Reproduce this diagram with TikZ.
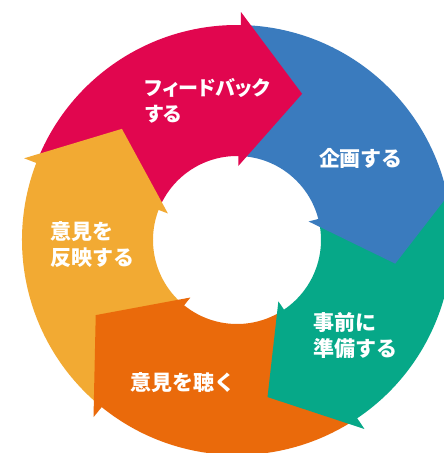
\documentclass[tikz,border=0pt]{standalone}
\usepackage{fontspec}
\setmainfont{Noto Sans CJK JP}
\newfontfamily\paltfont{Noto Sans CJK JP}[RawFeature=+palt]
\definecolor{cMag}{HTML}{E1064F}
\definecolor{cBlue}{HTML}{3A7BBE}
\definecolor{cGreen}{HTML}{06A888}
\definecolor{cOrange}{HTML}{EA6A0B}
\definecolor{cYellow}{HTML}{F2AA33}
\newcommand\ringbody[3]{\fill[#1] ({#2-2}:215pt) arc[start angle={#2-2},end angle={#3-2},radius=215pt] -- ({#3-2}:84pt) arc[start angle={#3-2},end angle={#2-2},radius=84pt] -- cycle;}
\newcommand\ringhead[2]{\fill[#1] (#2:74pt) -- (#2:228pt) -- ({#2-23}:160pt) -- cycle;}
\begin{document}
\begin{tikzpicture}[x=1pt,y=1pt,
  lbl/.style={text=white, font=\fontsize{21}{26}\selectfont\bfseries, inner sep=0pt, align=left, anchor=west}]
\useasboundingbox (-237,-213) rectangle (207,240);
\fill[white] (-237,-213) rectangle (207,240);
\clip (-237,-213) rectangle (207,240);
% bodies
\ringbody{cMag}{159}{89}
\ringbody{cBlue}{89}{14.5}
\ringbody{cGreen}{14.5}{-56}
\ringbody{cOrange}{-56}{-129}
\ringbody{cYellow}{-129}{-201}
% heads
\ringhead{cMag}{89}
\ringhead{cBlue}{14.5}
\ringhead{cGreen}{-56}
\ringhead{cOrange}{-129}
\ringhead{cYellow}{159}
% labels
\node[lbl, font=\fontsize{20}{26}\selectfont\bfseries\paltfont] (fb) at (-92,139.5) {フィードバック\\する};
\node[lbl, anchor=center] (kk) at (361-237,82) {企画する};
\node[lbl] (jz) at (76,-95.5) {事前に\\準備する};
\node[lbl] (ik) at (-107,-143) {意見を聴く};
\node[lbl] (ih) at (-187,-5) {意見を\\反映する};
\end{tikzpicture}
\end{document}
